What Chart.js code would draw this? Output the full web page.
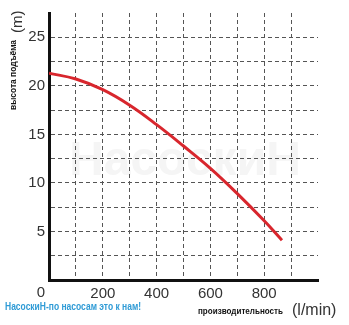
<!DOCTYPE html>
<html>
<head>
    <title>Pump curve</title>
    <script src="https://cdn.jsdelivr.net/npm/chart.js@4.4.0/dist/chart.umd.min.js"></script>
    <style>
        body { margin: 0; background: #fff; }
        #wrap { width: 349px; height: 325px; }
    </style>
</head>
<body>
    <div id="wrap"><canvas id="pumpChart" width="349" height="325"></canvas></div>

    <script>
        // flow (l/min) and head (m)
        const flow = [0, 100, 200, 300, 400, 500, 600, 700, 800, 866];
        const head = [21.3, 20.7, 19.6, 18.0, 16.0, 13.8, 11.5, 8.9, 6.1, 4.1];
        const xLabels = [200, 400, 600, 800];
        const yLabels = [5, 10, 15, 20, 25];

        const tickFont = { family: 'Liberation Sans, Arial, sans-serif', size: 15 };
        const gridColor = '#555';

        // draw text squeezed to a given width (the original uses a condensed face)
        function fitText(ctx, text, x, y, width) {
            const w = ctx.measureText(text).width;
            const k = Math.min(1, width / w);
            ctx.save();
            ctx.translate(x, y);
            ctx.scale(k, 1);
            ctx.fillText(text, 0, 0);
            ctx.restore();
        }

        // extra texts: axis titles, origin "0", watermark and site slogan
        const textPlugin = {
            id: 'texts',
            beforeDraw(chart) {
                const ctx = chart.ctx;
                ctx.save();
                ctx.fillStyle = '#f5f5f5';
                ctx.font = 'bold 48px Liberation Sans, Arial, sans-serif';
                ctx.textAlign = 'center';
                ctx.textBaseline = 'middle';
                ctx.fillText('НасоскиН', 185, 162);
                ctx.restore();
            },
            afterDraw(chart) {
                const ctx = chart.ctx;
                ctx.save();
                ctx.fillStyle = '#333';
                ctx.textBaseline = 'middle';
                ctx.font = '15px Liberation Sans, Arial, sans-serif';
                ctx.textAlign = 'right';
                ctx.fillText('0', 45, 293);
                ctx.textAlign = 'left';

                // y title (rotated)
                ctx.save();
                ctx.translate(14, 0);
                ctx.rotate(-Math.PI / 2);
                ctx.fillStyle = '#111';
                ctx.font = 'bold 9px Liberation Sans, Arial, sans-serif';
                fitText(ctx, 'высота подъёма', -110, 0, 70);
                ctx.fillStyle = '#333';
                ctx.font = '15px Liberation Sans, Arial, sans-serif';
                fitText(ctx, '(m)', -33, 4, 24);
                ctx.restore();

                // x title
                ctx.fillStyle = '#111';
                ctx.font = 'bold 9px Liberation Sans, Arial, sans-serif';
                fitText(ctx, 'производительность', 198, 312, 85);
                ctx.fillStyle = '#333';
                ctx.font = '16px Liberation Sans, Arial, sans-serif';
                ctx.fillText('(l/min)', 292, 311);

                // slogan
                ctx.fillStyle = '#2f9bd6';
                ctx.font = 'bold 10px Liberation Sans, Arial, sans-serif';
                fitText(ctx, 'НасоскиН-по насосам это к нам!', 5, 307, 136);
                ctx.restore();
            }
        };

        new Chart(document.getElementById('pumpChart'), {
            type: 'line',
            data: {
                datasets: [{
                    data: flow.map((f, i) => ({ x: f, y: head[i] })),
                    borderColor: '#d8262d',
                    borderWidth: 3,
                    pointRadius: 0,
                    tension: 0.4,
                    fill: false
                }]
            },
            options: {
                responsive: false,
                animation: false,
                layout: { padding: { top: 8, right: 31, left: 0, bottom: 0 } },
                plugins: {
                    legend: { display: false },
                    tooltip: { enabled: false }
                },
                scales: {
                    x: {
                        type: 'linear',
                        min: 0,
                        max: 1000,
                        afterFit(scale) { scale.height = 45; },
                        ticks: {
                            stepSize: 100,
                            autoSkip: false,
                            maxRotation: 0,
                            padding: 5,
                            color: '#333',
                            font: tickFont,
                            callback: v => xLabels.includes(v) ? String(v) : ''
                        },
                        grid: {
                            drawTicks: false,
                            lineWidth: 1,
                            color: c => (c.tick && (c.tick.value === 0 || c.tick.value === 1000)) ? 'rgba(0,0,0,0)' : gridColor
                        },
                        border: { display: true, color: '#111', width: 3, dash: [4, 3] }
                    },
                    y: {
                        min: 0,
                        max: 27.5,
                        afterFit(scale) { scale.width = 49; },
                        ticks: {
                            stepSize: 2.5,
                            autoSkip: false,
                            padding: 4,
                            color: '#333',
                            font: tickFont,
                            callback: v => yLabels.includes(v) ? String(v) : ''
                        },
                        grid: {
                            drawTicks: false,
                            lineWidth: 1,
                            color: c => (c.tick && (c.tick.value === 0 || c.tick.value === 27.5)) ? 'rgba(0,0,0,0)' : gridColor
                        },
                        border: { display: true, color: '#111', width: 3, dash: [4, 3] }
                    }
                }
            },
            plugins: [textPlugin]
        });
    </script>
</body>
</html>
